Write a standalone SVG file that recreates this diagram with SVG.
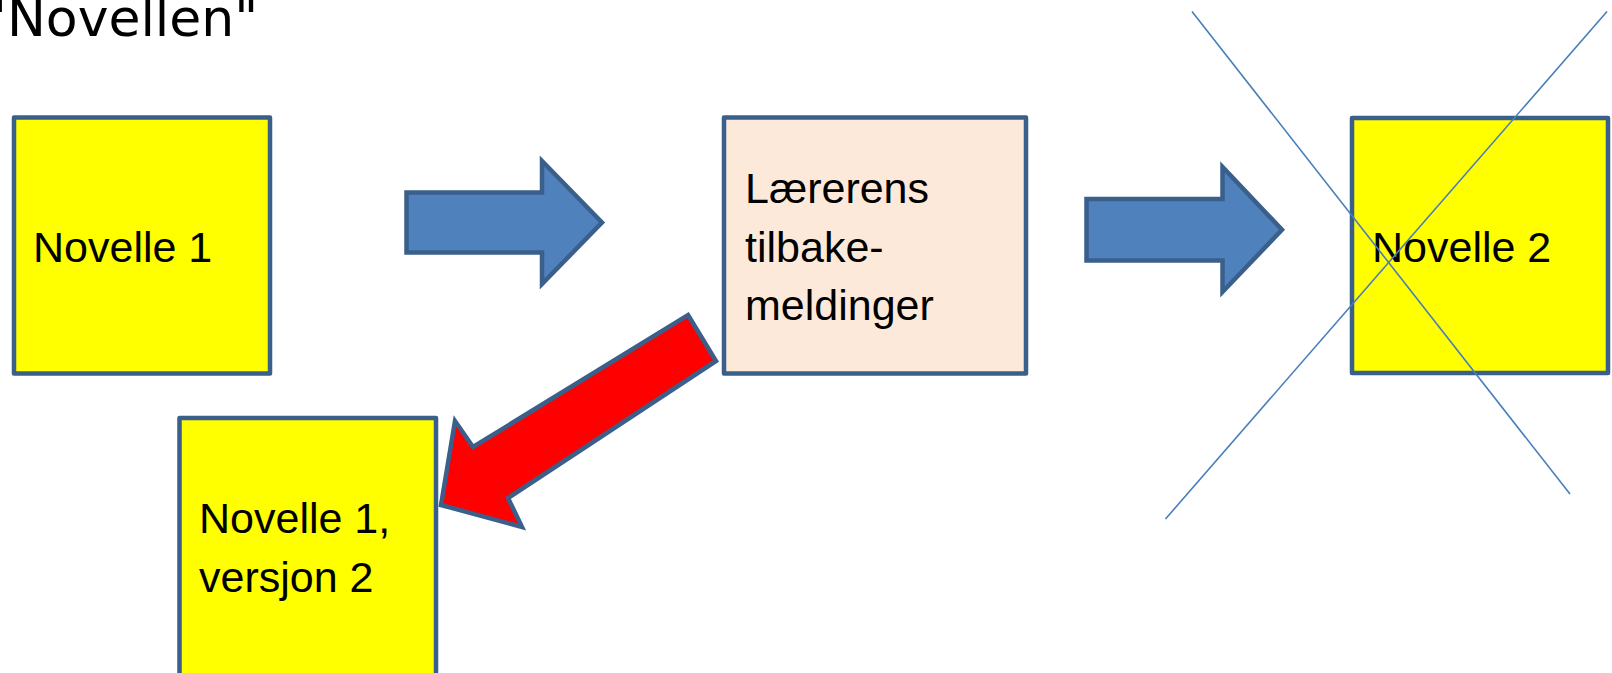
<svg xmlns="http://www.w3.org/2000/svg" width="1612" height="673" viewBox="0 0 1612 673">
  <style>
    .box { stroke: #3a5f8b; stroke-width: 4.5; stroke-linejoin: round; }
    .yellow { fill: #ffff00; }
    .peach { fill: #fde9d9; }
    .lbl { font-family: "Liberation Sans", Arial, sans-serif; font-size: 43px; fill: #000000; }
    .title { font-family: "DejaVu Sans", sans-serif; font-size: 52px; fill: #000000; }
    .arrow { stroke: #3a5f8b; stroke-width: 4.5; stroke-linejoin: miter; stroke-miterlimit: 10; }
    .blue { fill: #4f81bd; }
    .red { fill: #ff0000; }
    .strike { stroke: #4a7ebb; stroke-width: 1.6; fill: none; }
  </style>
  <rect width="1612" height="673" fill="#ffffff"/>
  <text class="title" x="-17" y="36">"Novellen"</text>

  <g id="node-novelle1">
    <rect class="box yellow" x="14" y="117.5" width="256" height="256"/>
    <text class="lbl" x="33" y="261.5">Novelle 1</text>
  </g>

  <g id="node-tilbakemeldinger">
    <rect class="box peach" x="724" y="117.5" width="302" height="256"/>
    <text class="lbl" x="745" y="203">Lærerens</text>
    <text class="lbl" x="745" y="261.5">tilbake-</text>
    <text class="lbl" x="745" y="320">meldinger</text>
  </g>

  <g id="node-novelle2">
    <rect class="box yellow" x="1352" y="118" width="256" height="255"/>
    <text class="lbl" x="1372" y="261.5">Novelle 2</text>
  </g>

  <g id="node-novelle1v2">
    <rect class="box yellow" x="179.5" y="418" width="256.5" height="270"/>
    <text class="lbl" x="199" y="533">Novelle 1,</text>
    <text class="lbl" x="199" y="591.5">versjon 2</text>
  </g>

  <g id="connectors">
    <polygon class="arrow blue" points="406.5,192.5 542,192.5 542,161 602,222.5 542,284 542,252.5 406.5,252.5"/>
    <polygon class="arrow blue" points="1086.5,199 1222.5,199 1222.5,167 1282,229.7 1222.5,292 1222.5,260.5 1086.5,260.5"/>
    <polygon class="arrow red" points="688,315 716,361 508,498 522,527 441,505 455,421 473,447"/>
  </g>

  <g id="strike">
    <line class="strike" x1="1192" y1="11.5" x2="1570" y2="494"/>
    <line class="strike" x1="1607" y1="11.5" x2="1165.5" y2="519"/>
  </g>
</svg>
